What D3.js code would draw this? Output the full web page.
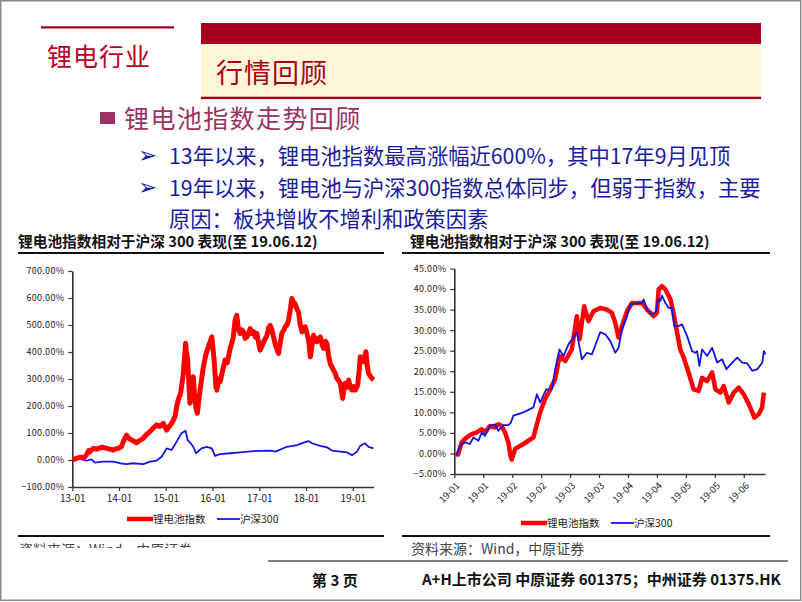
<!DOCTYPE html>
<html>
<head>
<meta charset="utf-8">
<script src="https://cdn.jsdelivr.net/npm/d3@7"></script>
<style>
  html, body { margin: 0; padding: 0; background: #fff; }
  svg { display: block; }
  text { font-family: "Noto Sans CJK SC", "Noto Sans", sans-serif; }
</style>
</head>
<body>
<svg id="slide" width="802" height="602"></svg>
<script>
// ---------------- DATA ----------------
const sectionTitle = "锂电行业";
const bannerTitle = "行情回顾";
const heading = "锂电池指数走势回顾";
// each bullet is a list of display lines
const bullets = [
  ["13年以来，锂电池指数最高涨幅近600%，其中17年9月见顶"],
  ["19年以来，锂电池与沪深300指数总体同步，但弱于指数，主要", "原因：板块增收不增利和政策因素"]
];
const chartTitle = "锂电池指数相对于沪深 300 表现(至 19.06.12)";
const seriesNames = ["锂电池指数", "沪深300"];
const sourceText = "资料来源：Wind，中原证券";
const pageText = "第 3 页";
const footerText = "A+H上市公司 中原证券 601375；中州证券 01375.HK";

// Left chart (2013-01 .. 2019-06-12), percent values
const leftYTicks = [-100, 0, 100, 200, 300, 400, 500, 600, 700];
const leftXTickDates = ["2013-01-01","2014-01-01","2015-01-01","2016-01-01","2017-01-01","2018-01-01","2019-01-01"];
const leftRed = [
  ["2013-01-04",0],["2013-02-01",6],["2013-03-01",10],["2013-04-01",8],["2013-04-20",18],
  ["2013-05-10",35],["2013-05-18",30],["2013-06-13",43],["2013-07-10",40],["2013-08-18",47],
  ["2013-09-20",44],["2013-10-22",40],["2013-11-17",37],["2013-12-10",42],["2013-12-27",43],
  ["2014-01-20",50],["2014-02-04",68],["2014-03-01",92],["2014-03-20",80],["2014-04-10",74],
  ["2014-05-18",64],["2014-06-10",72],["2014-07-09",80],["2014-07-30",92],["2014-08-30",105],
  ["2014-09-25",118],["2014-10-22",130],["2014-11-15",124],["2014-12-13",136],["2015-01-08",111],
  ["2015-02-16",136],["2015-03-14",160],["2015-03-28",200],["2015-04-08",222],["2015-04-27",247],
  ["2015-05-10",290],["2015-05-18",320],["2015-05-28",380],["2015-06-05",432],["2015-06-12",400],
  ["2015-06-21",370],["2015-07-01",280],["2015-07-09",210],["2015-07-22",259],["2015-08-04",308],
  ["2015-08-17",222],["2015-08-26",190],["2015-09-05",173],["2015-09-26",259],["2015-10-22",345],
  ["2015-11-10",390],["2015-11-30",419],["2015-12-27",456],["2016-01-14",370],["2016-01-28",270],
  ["2016-02-04",259],["2016-02-20",300],["2016-03-01",290],["2016-03-20",330],["2016-04-09",370],
  ["2016-04-25",360],["2016-05-18",412],["2016-06-10",450],["2016-06-26",518],["2016-07-09",536],
  ["2016-07-20",490],["2016-08-04",469],["2016-08-18",482],["2016-08-30",475],["2016-09-12",450],
  ["2016-09-26",456],["2016-10-10",470],["2016-10-22",487],["2016-11-05",468],["2016-11-17",475],
  ["2016-12-01",455],["2016-12-13",469],["2016-12-28",430],["2017-01-08",407],["2017-01-20",420],
  ["2017-02-04",438],["2017-03-01",460],["2017-03-15",490],["2017-03-27",499],["2017-04-10",480],
  ["2017-04-22",456],["2017-05-10",420],["2017-05-31",395],["2017-06-12",430],["2017-06-26",469],
  ["2017-07-10",480],["2017-07-22",493],["2017-08-05",500],["2017-08-17",518],["2017-09-01",560],
  ["2017-09-12",598],["2017-09-25",585],["2017-10-08",579],["2017-10-20",560],["2017-11-03",549],
  ["2017-11-15",505],["2017-11-30",475],["2017-12-12",490],["2017-12-26",493],["2018-01-08",470],
  ["2018-01-21",444],["2018-02-04",382],["2018-02-18",430],["2018-03-01",462],["2018-03-14",445],
  ["2018-03-27",438],["2018-04-10",450],["2018-04-22",456],["2018-05-05",430],["2018-05-18",413],
  ["2018-06-01",440],["2018-06-13",432],["2018-06-25",390],["2018-07-09",357],["2018-07-22",345],
  ["2018-08-04",333],["2018-08-18",320],["2018-08-30",302],["2018-09-12",295],["2018-09-26",284],
  ["2018-10-14",228],["2018-10-24",262],["2018-11-03",284],["2018-11-16",270],["2018-11-30",296],
  ["2018-12-12",268],["2018-12-26",259],["2019-01-08",272],["2019-01-21",259],["2019-02-08",277],
  ["2019-02-20",330],["2019-03-01",382],["2019-03-14",370],["2019-03-27",364],["2019-04-14",401],
  ["2019-04-24",350],["2019-05-04",321],["2019-05-18",310],["2019-05-31",302],["2019-06-12",296]
];
const leftBlue = [
  ["2013-01-04",0],["2013-02-16",6],["2013-04-20",-2],["2013-05-31",2],["2013-06-26",-10],
  ["2013-08-30",-6],["2013-11-17",-6],["2014-01-08",-12],["2014-03-01",-15],["2014-04-22",-12],
  ["2014-07-09",-15],["2014-08-30",-6],["2014-10-22",-2],["2014-11-30",12],["2015-01-08",43],
  ["2015-02-16",37],["2015-03-27",68],["2015-05-04",99],["2015-06-05",108],["2015-06-21",74],
  ["2015-07-14",62],["2015-08-04",49],["2015-08-25",25],["2015-10-08",43],["2015-11-17",49],
  ["2015-12-27",43],["2016-01-21",15],["2016-03-01",22],["2016-05-18",25],["2016-08-04",28],
  ["2016-11-17",33],["2017-03-27",35],["2017-05-08",31],["2017-08-04",49],["2017-10-22",55],
  ["2017-12-13",64],["2018-01-21",70],["2018-02-16",62],["2018-04-22",52],["2018-06-13",47],
  ["2018-07-22",35],["2018-09-26",31],["2018-11-17",28],["2018-12-26",18],["2019-02-04",31],
  ["2019-03-01",53],["2019-04-08",62],["2019-05-04",49],["2019-06-12",43]
];

// Right chart (2019-01-02 .. 2019-06-12): [days since 2019-01-02, percent]
const rightStart = "2019-01-02";
const rightEnd = "2019-06-12";
const rightYTicks = [-5, 0, 5, 10, 15, 20, 25, 30, 35, 40, 45];
const rightXTickDays = [0, 15, 30, 45, 60, 75, 90, 105, 120, 135, 150];
const rightRed = [
  [0.9,-0.5],[2,-0.2],[3.8,2.7],[6.4,3.9],[9,4.7],[11.6,5.1],[14.2,5.9],[15.9,5.1],[18.5,6.7],
  [21.1,6.3],[22.8,7.1],[24.6,6.7],[26.3,5.1],[28,2.7],[29.3,-1.0],[29.8,-1.5],[31.5,1.1],
  [35.8,2.3],[41,3.9],[42.8,7.1],[44.5,10],[47,13.2],[49.7,15.6],[52.3,18.1],[54.5,23.7],
  [57.5,22.5],[60.9,25.3],[63.5,33.4],[64.9,27.8],[67.3,35.8],[69.5,32.2],[72.1,34.6],
  [75.6,35.4],[79.1,35],[81.7,34.2],[83.4,31.8],[85.1,28.2],[86.9,31],[89.5,34.6],[92.1,36.6],
  [97.3,36.6],[99.9,35],[103.3,33.4],[105,34.2],[105.9,39.9],[107.6,40.7],[109.4,39.9],
  [112,37.5],[113.4,34.6],[114.5,31.8],[117.1,25.3],[118.9,23.3],[121.4,19.7],[124,15.6],
  [126.6,15.2],[128.4,18.4],[131,17.6],[133.6,19.7],[135.3,15.6],[137.9,14.8],[139.6,16.4],
  [142.2,12.4],[144.8,14.8],[147.4,16],[150,14.4],[152.6,12],[154.4,10],[155.5,8.7],
  [157.8,9.6],[159.5,11.2],[160.4,14.8]
];
const rightBlue = [
  [0.9,-0.5],[3,1.9],[5.6,2.7],[8.1,2.3],[9.9,3.9],[12.5,3.1],[14.2,5.1],[15.9,4.3],[18.5,6.7],
  [21.1,7.1],[22.8,5.5],[25.4,6.9],[28,6.9],[29.3,7.5],[30.6,9.2],[35.8,10],[41,11.2],
  [42.8,14.4],[44.5,12.4],[47.6,15.6],[50.5,15.6],[52.3,20.5],[54.5,25.3],[56.6,23.7],
  [59.2,26.6],[63.5,29.4],[66.1,22.9],[68.7,24.5],[71.3,24.1],[75.6,29.5],[78.2,29],
  [80.8,27.4],[83.4,24.5],[85.1,25.7],[86.9,30.2],[89.5,33.4],[91.2,36.3],[94.7,36.6],
  [97.3,36.6],[98.1,37.5],[99.9,35],[102.4,33.8],[104.7,34.6],[105.4,37.5],[106.8,37.1],
  [107.6,38.4],[109.4,36.6],[111.1,35.4],[112.8,35.4],[114,31],[116.3,31],[118,31.4],
  [120.6,28.6],[123.2,24.9],[124.9,24.5],[125.8,24.9],[127,21.3],[128.4,25.3],[131,23.7],
  [133.6,25.7],[136.2,22.1],[138.8,22.9],[141,20.5],[144,22.1],[146.6,23.3],[149.2,22.1],
  [151.8,21.9],[154.4,20.1],[157,20.5],[159.6,22.1],[160.4,24.9],[161.3,24.1]
];

// ---------------- DRAWING ----------------
const svg = d3.select("#slide");
const parse = d3.timeParse("%Y-%m-%d");
const DARKRED = "#a50021";
const RED = "#ff0000";
const BLUE = "#1414e6";
const NAVY = "#1b1b9e";

// slide border
svg.append("rect").attr("x", 0.75).attr("y", 0.75).attr("width", 800).attr("height", 599.5)
  .attr("fill", "none").attr("stroke", "#8a8a8a").attr("stroke-width", 1.5);

// top-left section label
svg.append("line").attr("x1", 41).attr("x2", 174).attr("y1", 27.3).attr("y2", 27.3)
  .attr("stroke", DARKRED).attr("stroke-width", 2.2);
svg.append("text").attr("x", 47).attr("y", 66).attr("font-size", 25).attr("letter-spacing", 1)
  .attr("fill", "#b8001f").text(sectionTitle);

// banner
svg.append("rect").attr("x", 201).attr("y", 23).attr("width", 560).attr("height", 21).attr("fill", DARKRED);
svg.append("rect").attr("x", 201).attr("y", 44).attr("width", 560).attr("height", 53).attr("fill", "#fff7d8");
svg.append("rect").attr("x", 201).attr("y", 96.7).attr("width", 560).attr("height", 2.4).attr("fill", DARKRED);
svg.append("text").attr("x", 216).attr("y", 83).attr("font-size", 27).attr("letter-spacing", 1)
  .attr("fill", "#a8001c").text(bannerTitle);

// heading
svg.append("rect").attr("x", 100).attr("y", 112).attr("width", 15).attr("height", 12).attr("fill", "#993366");
svg.append("text").attr("x", 124).attr("y", 128).attr("font-size", 25).attr("letter-spacing", 1.4)
  .attr("fill", "#993366").text(heading);

// bullets
const bulletY = [164, 196];
const lineGap = 31;
bullets.forEach((lines, i) => {
  svg.append("text").attr("x", 138).attr("y", bulletY[i] - 1).attr("font-size", 23)
    .attr("font-family", '"DejaVu Sans", sans-serif').attr("fill", NAVY).text("➢");
  const t = svg.append("text").attr("x", 169).attr("y", bulletY[i]).attr("font-size", 21.3)
    .attr("fill", NAVY);
  lines.forEach((ln, j) => {
    t.append("tspan").attr("x", 169).attr("y", bulletY[i] + j * lineGap).text(ln);
  });
});

// chart frames
function frame(x0, x1, titleX) {
  svg.append("text").attr("x", titleX).attr("y", 247).attr("font-size", 14.7).attr("font-weight", "bold")
    .attr("fill", "#111").text(chartTitle);
  svg.append("line").attr("x1", x0).attr("x2", x1).attr("y1", 253).attr("y2", 253)
    .attr("stroke", "#111").attr("stroke-width", 2);
  svg.append("line").attr("x1", x0).attr("x2", x1).attr("y1", 536).attr("y2", 536)
    .attr("stroke", "#111").attr("stroke-width", 2);
}
frame(18, 384, 18);
frame(402, 770, 410);

function styleAxis(g, fontSize) {
  g.select(".domain").attr("stroke", "#333").attr("stroke-width", 1.6);
  g.selectAll(".tick line").attr("stroke", "#333").attr("stroke-width", 1.2);
  g.selectAll(".tick text").attr("font-family", '"Liberation Sans", sans-serif')
    .attr("font-size", fontSize).attr("fill", "#222");
}

// ---------- Left chart ----------
const xL = d3.scaleTime().domain([parse("2013-01-01"), parse("2019-06-12")]).range([72.3, 373.5]);
const yL = d3.scaleLinear().domain([-100, 700]).range([487, 271]);
const gLy = svg.append("g").attr("transform", `translate(${xL.range()[0]},0)`)
  .call(d3.axisLeft(yL).tickValues(leftYTicks).tickSize(4).tickSizeOuter(0).tickPadding(4)
    .tickFormat(d => d3.format(".2f")(d) + "%"));
styleAxis(gLy, 9);
gLy.selectAll(".tick text").attr("letter-spacing", 0.3);
const gLx = svg.append("g").attr("transform", `translate(0,${yL(-100)})`)
  .call(d3.axisBottom(xL).tickValues(leftXTickDates.map(parse)).tickSize(4).tickSizeOuter(0)
    .tickPadding(4).tickFormat(d3.timeFormat("%y-%m")));
styleAxis(gLx, 10);

const lineL = d3.line().x(d => xL(parse(d[0]))).y(d => yL(d[1]));
svg.append("path").datum(leftBlue).attr("d", lineL).attr("fill", "none")
  .attr("stroke", BLUE).attr("stroke-width", 1.8).attr("stroke-linejoin", "round");
svg.append("path").datum(leftRed).attr("d", lineL).attr("fill", "none")
  .attr("stroke", RED).attr("stroke-width", 5).attr("stroke-linejoin", "round");

// legend
function legend(x, y) {
  svg.append("line").attr("x1", x).attr("x2", x + 26).attr("y1", y).attr("y2", y)
    .attr("stroke", RED).attr("stroke-width", 4.5);
  svg.append("text").attr("x", x + 26).attr("y", y + 4).attr("font-size", 10.5).attr("fill", "#222")
    .text(seriesNames[0]);
  svg.append("line").attr("x1", x + 90).attr("x2", x + 113).attr("y1", y).attr("y2", y)
    .attr("stroke", BLUE).attr("stroke-width", 1.8);
  svg.append("text").attr("x", x + 113).attr("y", y + 4).attr("font-size", 10.5).attr("fill", "#222")
    .text(seriesNames[1]);
}
legend(127, 519);

// left source (clipped, only top visible)
svg.append("clipPath").attr("id", "srcclip").append("rect")
  .attr("x", 0).attr("y", 538).attr("width", 400).attr("height", 10);
svg.append("text").attr("x", 19).attr("y", 555).attr("font-size", 14).attr("fill", "#444")
  .attr("clip-path", "url(#srcclip)").text(sourceText);

// ---------- Right chart ----------
const r0 = parse(rightStart);
const dayToDate = d => new Date(r0.getTime() + d * 86400000);
const xR = d3.scaleTime().domain([r0, parse(rightEnd)]).range([454.3, 765]);
const yR = d3.scaleLinear().domain([-5, 45]).range([474, 268.5]);
const gRy = svg.append("g").attr("transform", `translate(${xR.range()[0]},0)`)
  .call(d3.axisLeft(yR).tickValues(rightYTicks).tickSize(4).tickSizeOuter(0).tickPadding(4)
    .tickFormat(d => d3.format(".2f")(d) + "%"));
styleAxis(gRy, 9);
gRy.selectAll(".tick text").attr("letter-spacing", 0.3);
const gRx = svg.append("g").attr("transform", `translate(0,${yR(-5)})`)
  .call(d3.axisBottom(xR).tickValues(rightXTickDays.map(dayToDate)).tickSize(4).tickSizeOuter(0)
    .tickFormat(d3.timeFormat("%y-%m")));
styleAxis(gRx, 9.5);
gRx.selectAll(".tick text").attr("text-anchor", "end").attr("dy", "0.35em")
  .attr("transform", "translate(3,10) rotate(-45)").attr("y", 0).attr("x", 0);

const lineR = d3.line().x(d => xR(dayToDate(d[0]))).y(d => yR(d[1]));
svg.append("path").datum(rightRed).attr("d", lineR).attr("fill", "none")
  .attr("stroke", RED).attr("stroke-width", 4.5).attr("stroke-linejoin", "round");
svg.append("path").datum(rightBlue).attr("d", lineR).attr("fill", "none")
  .attr("stroke", BLUE).attr("stroke-width", 1.8).attr("stroke-linejoin", "round");

legend(521, 523);

svg.append("text").attr("x", 411).attr("y", 554).attr("font-size", 14).attr("fill", "#444").text(sourceText);

// footer
svg.append("line").attr("x1", 268).attr("x2", 788).attr("y1", 561).attr("y2", 561)
  .attr("stroke", "#555").attr("stroke-width", 1.3);
svg.append("text").attr("x", 312).attr("y", 586).attr("font-size", 15).attr("font-weight", "bold")
  .attr("fill", "#111").text(pageText);
svg.append("text").attr("x", 422).attr("y", 585).attr("font-size", 15).attr("font-weight", "bold")
  .attr("fill", "#111").text(footerText);
</script>
</body>
</html>
